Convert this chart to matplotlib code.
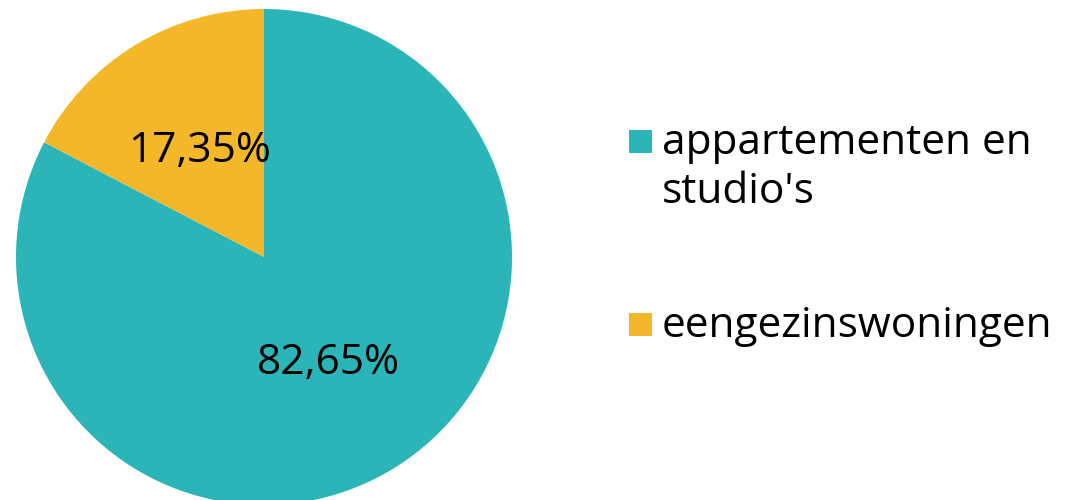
import matplotlib
matplotlib.use("Agg")
import matplotlib.pyplot as plt
from matplotlib.patches import Rectangle

# Housing types and their shares (%)
labels = ["appartementen en\nstudio's", "eengezinswoningen"]
shares = [82.65, 17.35]
colors = ["#2CB5B8", "#F4B72A"]

plt.rcParams["font.family"] = ["Open Sans", "DejaVu Sans"]

W, H = 1065, 500
fig = plt.figure(figsize=(W / 100, H / 100), dpi=100)
ax = fig.add_axes([0, 0, 1, 1])

wedges, texts, autotexts = ax.pie(
    shares,
    colors=colors,
    startangle=90,
    counterclock=False,
    center=(264, 243),
    radius=248,
    autopct=lambda p: f"{p:.2f}".replace(".", ",") + "%",
    pctdistance=0.5,
    textprops=dict(fontsize=30.5, color="black"),
    wedgeprops=dict(linewidth=0),
)
ax.set_xlim(0, W)
ax.set_ylim(0, H)
ax.set_aspect("auto")
ax.axis("off")

# Legend: square swatch + label, drawn in pixel units
legend_tops = [H - 130, H - 313]
for lab, col, top in zip(labels, colors, legend_tops):
    ax.add_patch(Rectangle((629, top - 23), 23, 23, facecolor=col, edgecolor="none"))
    ax.text(662, top + 8, lab, fontsize=30.5, ha="left", va="top",
            color="black", linespacing=1.23)

fig.savefig("out.png", dpi=100)
